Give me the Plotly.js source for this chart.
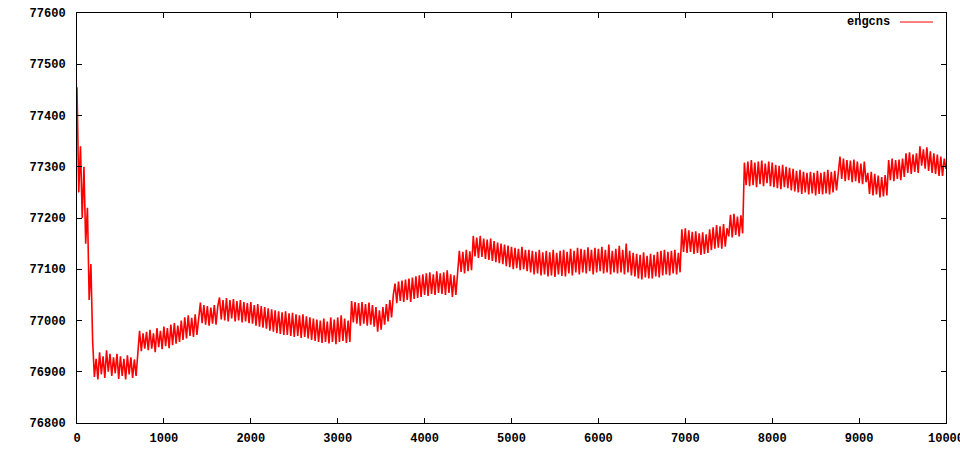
<!DOCTYPE html>
<html>
<head>
<meta charset="utf-8">
<script src="https://cdn.plot.ly/plotly-3.0.1.min.js"></script>
<style>html,body{margin:0;padding:0;background:#fff;}#chart{width:960px;height:450px;}</style>
</head>
<body>
<div id="chart"></div>
<script>
// series name
const seriesName = 'engcns';
// sample spacing of the readings along x (step index)
const xStart = 0;
const xStep = 20;
// engcns values, one every 20 steps (0 .. 10000)
const engcns = [
  77455, 77250, 77340, 77200, 77300, 77150, 77220, 77040, 77110, 76960,
  76890, 76925, 76885, 76938, 76895, 76930, 76888, 76942, 76900, 76935,
  76892, 76928, 76897, 76935, 76886, 76930, 76892, 76925, 76885, 76932,
  76895, 76928, 76888, 76924, 76892, 76938, 76980, 76940, 76975, 76945,
  76978, 76942, 76982, 76945, 76975, 76938, 76985, 76948, 76980, 76944,
  76988, 76950, 76985, 76946, 76992, 76952, 76995, 76955, 76990, 76958,
  77000, 76962, 77006, 76965, 77010, 76970, 77005, 76968, 77012, 76972,
  77005, 77035, 76995, 77030, 76992, 77028, 76990, 77025, 76994, 77030,
  76992, 77028, 77045, 77002, 77040, 77000, 77044, 76998, 77040, 77004,
  77042, 76998, 77038, 77000, 77040, 76996, 77036, 76998, 77034, 76995,
  77036, 76994, 77030, 76990, 77032, 76988, 77028, 76986, 77026, 76984,
  77024, 76980, 77022, 76978, 77020, 76975, 77018, 76974, 77016, 76972,
  77018, 76972, 77014, 76970, 77015, 76968, 77012, 76970, 77010, 76966,
  77012, 76968, 77008, 76965, 77006, 76962, 77004, 76960, 77002, 76958,
  77000, 76956, 77004, 76958, 76998, 76955, 77006, 76958, 77002, 76954,
  77006, 76958, 77010, 76960, 77004, 76956, 77000, 76958, 77038, 76996,
  77036, 76994, 77034, 76990, 77036, 76994, 77032, 76990, 77035, 76992,
  77030, 76988, 77026, 76978, 77020, 76982, 77026, 76992, 77032, 76998,
  77040, 77006, 77050, 77072, 77034, 77076, 77038, 77078, 77036, 77080,
  77040, 77082, 77036, 77084, 77042, 77086, 77044, 77088, 77046, 77090,
  77050, 77092, 77048, 77094, 77052, 77090, 77050, 77096, 77054, 77092,
  77052, 77094, 77050, 77098, 77054, 77090, 77046, 77088, 77050, 77086,
  77136, 77095, 77134, 77092, 77138, 77096, 77135, 77098, 77165, 77125,
  77162, 77122, 77165, 77124, 77160, 77120, 77158, 77118, 77160, 77116,
  77155, 77114, 77152, 77112, 77150, 77110, 77148, 77106, 77146, 77104,
  77144, 77100, 77142, 77102, 77140, 77098, 77144, 77100, 77138, 77096,
  77138, 77094, 77136, 77090, 77134, 77092, 77138, 77088, 77133, 77090,
  77136, 77086, 77133, 77088, 77138, 77085, 77132, 77090, 77136, 77087,
  77138, 77086, 77134, 77092, 77140, 77088, 77136, 77094, 77142, 77090,
  77140, 77094, 77138, 77092, 77143, 77096, 77138, 77090, 77142, 77094,
  77140, 77096, 77144, 77092, 77138, 77094, 77148, 77090, 77136, 77094,
  77140, 77092, 77146, 77094, 77138, 77090, 77150, 77094, 77136, 77088,
  77132, 77086, 77130, 77082, 77128, 77080, 77133, 77084, 77126, 77082,
  77130, 77082, 77128, 77086, 77134, 77084, 77136, 77088, 77138, 77090,
  77134, 77088, 77136, 77092, 77138, 77090, 77132, 77094, 77178, 77134,
  77180, 77132, 77176, 77134, 77173, 77130, 77174, 77132, 77170, 77128,
  77172, 77130, 77168, 77132, 77178, 77137, 77182, 77140, 77186, 77142,
  77184, 77140, 77188, 77144, 77180, 77164, 77206, 77162, 77208, 77167,
  77203, 77164, 77205, 77170, 77308, 77264, 77310, 77262, 77313, 77264,
  77308, 77260, 77310, 77266, 77312, 77262, 77306, 77268, 77310, 77262,
  77308, 77260, 77304, 77258, 77302, 77256, 77304, 77260, 77300, 77258,
  77298, 77254, 77296, 77252, 77292, 77250, 77294, 77247, 77290, 77250,
  77288, 77246, 77290, 77248, 77288, 77244, 77292, 77247, 77288, 77246,
  77290, 77248, 77294, 77246, 77290, 77250, 77292, 77254, 77288, 77320,
  77276, 77316, 77272, 77313, 77274, 77312, 77270, 77314, 77272, 77310,
  77268, 77306, 77266, 77310, 77270, 77288, 77247, 77290, 77244, 77286,
  77246, 77283, 77240, 77280, 77242, 77284, 77244, 77313, 77274, 77316,
  77272, 77313, 77276, 77314, 77274, 77316, 77280, 77326, 77288, 77328,
  77286, 77324, 77290, 77326, 77288, 77340, 77302, 77334, 77296, 77338,
  77292, 77330, 77288, 77326, 77286, 77324, 77282, 77320, 77282, 77316,
  77296
];
// axis ranges and tick spacing
const xRange = [0, 10000];
const yRange = [76800, 77600];
const xTickStep = 1000;
const yTickStep = 100;

const tickFont = {family: 'Liberation Mono, DejaVu Sans Mono, monospace', size: 12, color: '#000', weight: 'bold'};

const trace = {
  type: 'scatter',
  mode: 'lines',
  name: seriesName,
  x0: xStart,
  dx: xStep,
  y: engcns,
  line: {color: '#ff0000', width: 1.6},
  hoverinfo: 'skip'
};

const axisCommon = {
  showline: true,
  linecolor: '#000',
  linewidth: 1,
  mirror: 'ticks',
  ticks: 'inside',
  ticklen: 5,
  tickwidth: 1,
  tickcolor: '#000',
  showgrid: false,
  zeroline: false,
  tickformat: 'd',
  ticklabeloverflow: 'allow',
  tickfont: tickFont
};

const layout = {
  width: 960,
  height: 450,
  margin: {l: 77, r: 14, t: 13, b: 27, pad: 0},
  paper_bgcolor: '#fff',
  plot_bgcolor: '#fff',
  showlegend: false,
  xaxis: Object.assign({}, axisCommon, {range: xRange, dtick: xTickStep, tick0: 0, ticklabelstandoff: 4}),
  yaxis: Object.assign({}, axisCommon, {range: yRange, dtick: yTickStep, tick0: 76800, ticklabelstandoff: 8}),
  annotations: [{
    xref: 'paper', yref: 'paper', x: 0.938, y: 0.978,
    xanchor: 'right', yanchor: 'middle', showarrow: false,
    text: seriesName, font: tickFont
  }],
  shapes: [{
    type: 'line', xref: 'paper', yref: 'paper',
    x0: 0.947, x1: 0.985, y0: 0.978, y1: 0.978,
    line: {color: '#ff0000', width: 1}
  }]
};

Plotly.newPlot('chart', [trace], layout, {staticPlot: true, displayModeBar: false});
</script>
</body>
</html>
